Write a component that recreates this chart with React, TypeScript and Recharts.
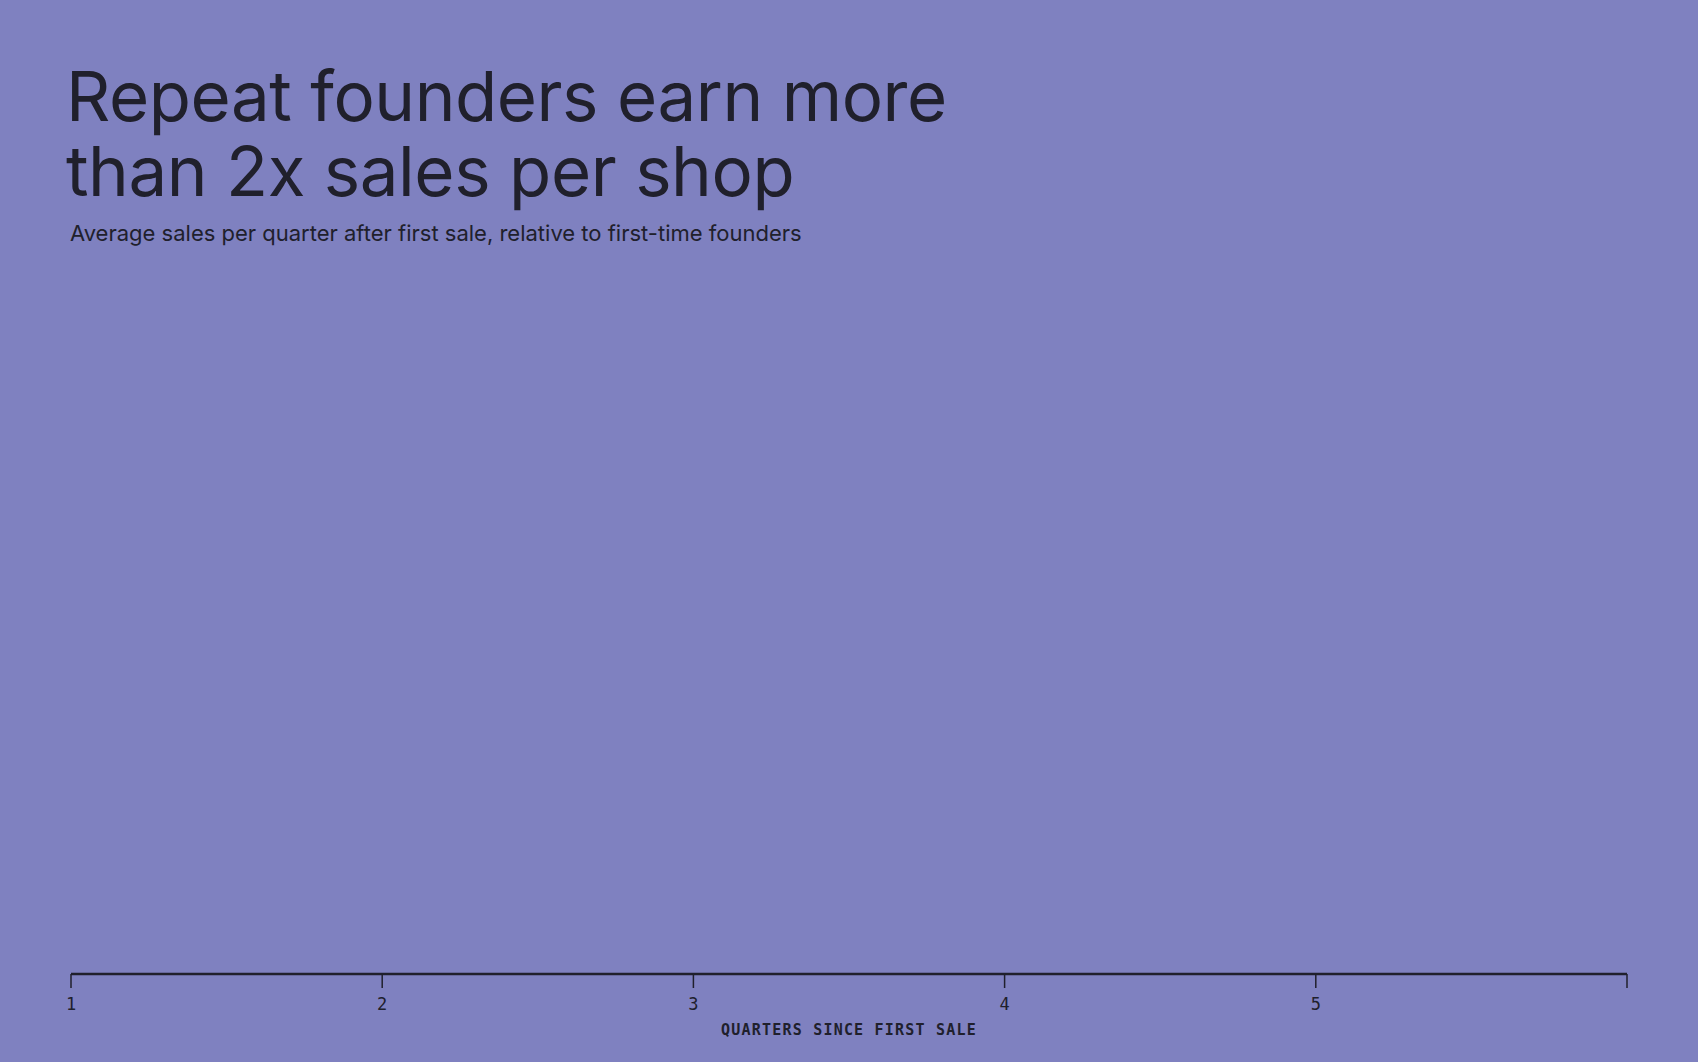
import * as React from "react";
import { Label, LineChart, XAxis, YAxis } from "recharts";

const W = 1698;
const H = 1062;
const BG = "#7f81c0";
const INK = "#20202c";
const MONO = "'DejaVu Sans Mono', 'Liberation Mono', monospace";

// quarters since first sale (last quarter is drawn without a label)
const quarters = [1, 2, 3, 4, 5, 6];
const tickLabels = ["1", "2", "3", "4", "5", ""];
const title = ["Repeat founders earn more", "than 2x sales per shop"];
const subtitle = "Average sales per quarter after first sale, relative to first-time founders";
const axisTitle = "QUARTERS SINCE FIRST SALE";

const rows = quarters.map((q) => ({ quarter: q }));

export default function App() {
  return (
    <div style={{ position: "fixed", left: 0, top: 0, width: W, height: H, background: BG, overflow: "hidden" }}>
      {title.map((t, i) => (
        <div
          key={t}
          style={{
            position: "absolute",
            left: 66,
            top: 59 + i * 75,
            fontFamily: "Inter, sans-serif",
            fontSize: 69,
            lineHeight: "75px",
            fontWeight: 400,
            letterSpacing: -0.45,
            color: INK,
            whiteSpace: "nowrap",
          }}
        >
          {t}
        </div>
      ))}
      <div
        style={{
          position: "absolute",
          left: 70,
          top: 222,
          fontFamily: "Inter, sans-serif",
          fontSize: 22,
          lineHeight: "22px",
          color: INK,
          whiteSpace: "nowrap",
        }}
      >
        {subtitle}
      </div>
      <div style={{ position: "absolute", left: 0, top: 0 }}>
        <LineChart width={W} height={H} data={rows} margin={{ top: 280, right: 71, bottom: 0, left: 71 }}>
          <XAxis
            dataKey="quarter"
            type="number"
            domain={[1, 6]}
            ticks={quarters}
            tickFormatter={(v: number) => tickLabels[quarters.indexOf(v)]}
            height={88}
            tickSize={14}
            tickMargin={10}
            axisLine={{ stroke: INK, strokeWidth: 2.5 }}
            tickLine={{ stroke: INK, strokeWidth: 1.5 }}
            tick={{ fill: INK, fontSize: 17, fontFamily: MONO }}
          >
            <Label
              value={axisTitle}
              position="insideBottom"
              offset={27}
              style={{
                fill: INK,
                fontSize: 15,
                fontWeight: 700,
                letterSpacing: 1.2,
                fontFamily: MONO,
              }}
            />
          </XAxis>
          <YAxis hide domain={[0, 3]} />
        </LineChart>
      </div>
    </div>
  );
}
